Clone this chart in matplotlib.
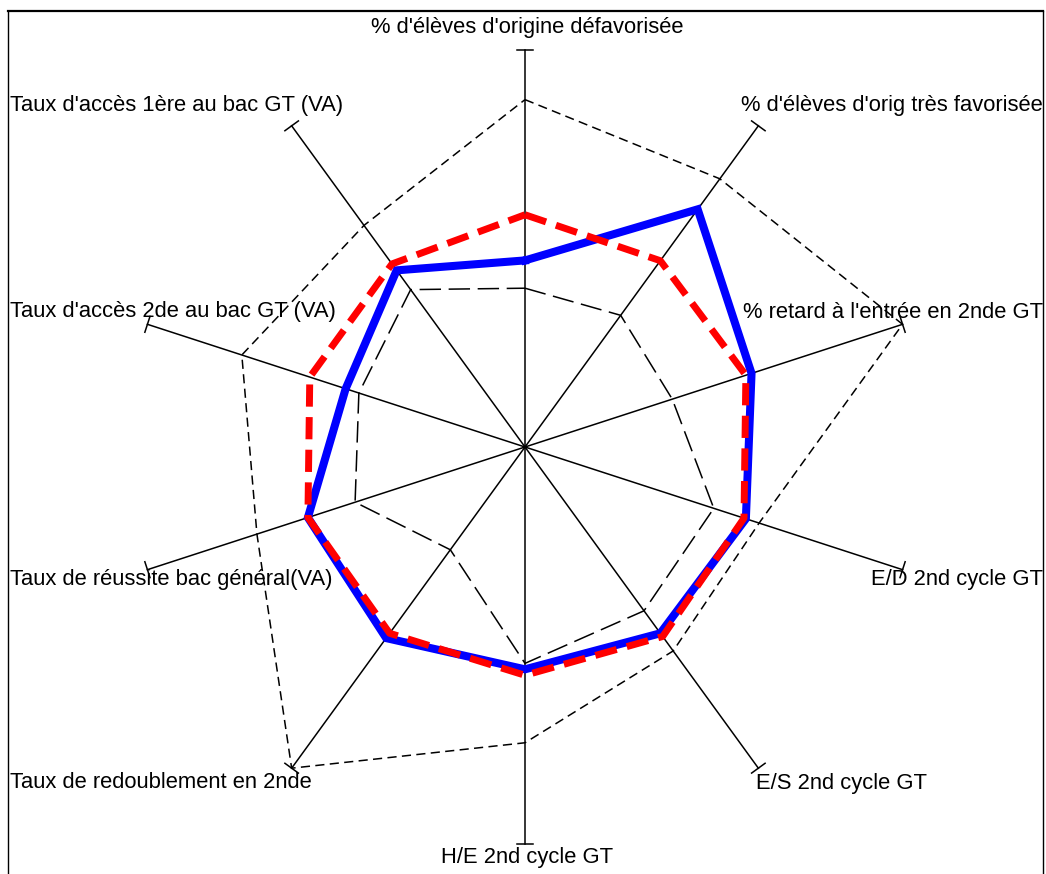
import numpy as np
import matplotlib
matplotlib.use("Agg")
import matplotlib.pyplot as plt
from matplotlib.lines import Line2D

# data -------------------------------------------------------------------------
categories = [
  "% d'élèves d'origine défavorisée",
  "% d'élèves d'orig très favorisée",
  "% retard à l'entrée en 2nde GT",
  "E/D 2nd cycle GT",
  "E/S 2nd cycle GT",
  "H/E 2nd cycle GT",
  "Taux de redoublement en 2nde",
  "Taux de réussite bac général(VA)",
  "Taux d'accès 2de au bac GT (VA)",
  "Taux d'accès 1ère au bac GT (VA)",
]
serie_etab = [0.47, 0.74, 0.60, 0.585, 0.58, 0.56, 0.595, 0.575, 0.475, 0.55]
serie_ref = [0.585, 0.58, 0.585, 0.58, 0.59, 0.575, 0.58, 0.575, 0.57, 0.57]
serie_max = [0.875, 0.835, 1.0, 0.62, 0.635, 0.745, 1.0, 0.71, 0.75, 0.69]
serie_min = [0.40, 0.41, 0.39, 0.50, 0.51, 0.545, 0.32, 0.45, 0.44, 0.49]

# layout -----------------------------------------------------------------------
W, H = 1046, 874
cx, cy, R = 525, 447, 397
plt.rcParams['font.family'] = ['Liberation Sans', 'DejaVu Sans']

fig = plt.figure(figsize=(W / 100, H / 100), dpi=100)
ax = fig.add_axes([(cx - R) / W, (H - cy - R) / H, 2 * R / W, 2 * R / H])
ax.set_xlim(-1, 1)
ax.set_ylim(-1, 1)
ax.axis('off')

n = len(categories)
theta = np.deg2rad(90 - 360 / n * np.arange(n))


def closed_xy(vals):
  v = np.asarray(vals)
  x = v * np.cos(theta)
  y = v * np.sin(theta)
  return np.append(x, x[0]), np.append(y, y[0])


# spokes + end ticks
tk = 0.021
for t in theta:
  ax.plot([0, np.cos(t)], [0, np.sin(t)], color='black', lw=1.1, clip_on=False)
  ex, ey = np.cos(t), np.sin(t)
  px, py = -np.sin(t) * tk, np.cos(t) * tk
  ax.plot([ex - px, ex + px], [ey - py, ey + py], color='black', lw=1.1, clip_on=False)

x, y = closed_xy(serie_max)
ax.plot(x, y, color='black', lw=1.1, dashes=(6, 3.5), clip_on=False)
x, y = closed_xy(serie_min)
ax.plot(x, y, color='black', lw=1.1, dashes=(14, 5), clip_on=False)
x, y = closed_xy(serie_etab)
ax.plot(x, y, color='#0000ff', lw=5.8, solid_joinstyle='miter', clip_on=False)
x, y = closed_xy(serie_ref)
ax.plot(x, y, color='#ff0000', lw=5.0, dashes=(3.2, 1.5), dash_capstyle='butt', clip_on=False)

# labels (pixel anchors)
label_pos = [
  (527, 28, 'center'),
  (1043, 105, 'right'),
  (1043, 312, 'right'),
  (1043, 580, 'right'),
  (756, 783, 'left'),
  (527, 857, 'center'),
  (10, 783, 'left'),
  (10, 580, 'left'),
  (10, 312, 'left'),
  (10, 105, 'left'),
]
for lab, (lx, ly, ha) in zip(categories, label_pos):
  fig.text(lx / W, 1 - ly / H, lab, ha=ha, va='center', fontsize=15.8, color='black')

# frame
fig.add_artist(Line2D([8 / W, 8 / W], [0, 1 - 11 / H], color='black', lw=1.0))
fig.add_artist(Line2D([1043 / W, 1043 / W], [0, 1 - 11 / H], color='black', lw=1.0))
fig.add_artist(Line2D([8 / W, 1043 / W], [1 - 11 / H, 1 - 11 / H], color='black', lw=1.6))

fig.savefig("out.png", dpi=100)
